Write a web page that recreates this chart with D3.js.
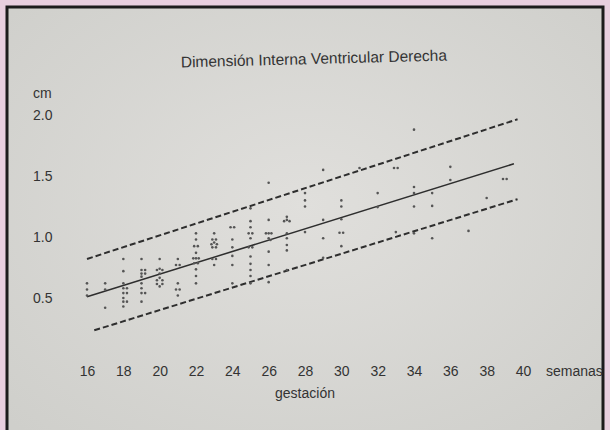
<!DOCTYPE html>
<html>
<head>
<meta charset="utf-8">
<script src="https://cdn.jsdelivr.net/npm/d3@7"></script>
<style>
  body { margin: 0; background: #e8cfdf; }
  text { font-family: "Liberation Sans", Arial, sans-serif; fill: #333; }
</style>
</head>
<body>
<svg></svg>
<script>
// semanas de gestacion / cm
let xTicks = [16, 18, 20, 22, 24, 26, 28, 30, 32, 34, 36, 38, 40];
let yTicks = [0.5, 1.0, 1.5, 2.0];

let dotWeeks = [
  16, 16, 16,
  17, 17, 17,
  18, 18, 18, 18, 18, 18, 18, 18, 18.2, 18.2, 18.2,
  19, 19, 19, 19, 19, 19, 19, 19, 19.2, 19.2, 19.2,
  20, 19.85, 20, 20.15, 20, 20, 19.85, 20.15, 19.85, 20.15, 20,
  21, 20.9, 21.1, 21, 20.9, 21.1, 21,
  22, 22, 21.9, 22.1, 22, 21.85, 22, 22.15, 21.9, 22.1, 22, 22, 22,
  23, 22.9, 23.1, 23, 22.85, 23.15, 22.9, 23.1, 22.9, 23.1, 23,
  23.9, 24.1, 24, 24, 24, 24, 24,
  25, 25, 25, 24.9, 25.1, 25, 24.9, 25.1, 25, 25, 25, 25, 25,
  26, 26, 25.85, 26, 26.15, 26, 26.1, 26, 26, 26,
  27, 26.85, 27, 27.15, 27, 27, 27, 27, 27,
  28, 28, 28, 28,
  29, 29, 29, 29,
  30, 30, 30, 29.9, 30.1, 30,
  31,
  32, 32,
  32.9, 33.1, 33,
  34, 34, 34, 34, 34,
  35, 35, 35,
  36, 36,
  37,
  38,
  38.9, 39.1
];
let dotCm = [
  0.62, 0.57, 0.52,
  0.62, 0.57, 0.42,
  0.82, 0.72, 0.62, 0.58, 0.54, 0.50, 0.47, 0.43, 0.58, 0.54, 0.47,
  0.82, 0.73, 0.70, 0.675, 0.62, 0.58, 0.54, 0.47, 0.73, 0.70, 0.54,
  0.82, 0.73, 0.74, 0.73, 0.70, 0.665, 0.645, 0.645, 0.615, 0.615, 0.595,
  0.82, 0.77, 0.77, 0.62, 0.57, 0.57, 0.52,
  1.03, 0.98, 0.925, 0.925, 0.87, 0.825, 0.825, 0.825, 0.785, 0.785, 0.735, 0.68, 0.62,
  1.03, 0.98, 0.98, 0.955, 0.94, 0.94, 0.915, 0.915, 0.82, 0.82, 0.77,
  1.08, 1.08, 0.98, 0.915, 0.845, 0.77, 0.62,
  1.235, 1.13, 1.08, 1.03, 1.03, 0.99, 0.915, 0.915, 0.84, 0.78, 0.73, 0.68, 0.62,
  1.445, 1.14, 1.03, 1.03, 1.03, 0.99, 0.975, 0.88, 0.77, 0.63,
  1.165, 1.13, 1.14, 1.13, 1.03, 0.99, 0.935, 0.89, 0.73,
  1.36, 1.30, 1.25, 1.04,
  1.55, 1.14, 0.99, 0.83,
  1.30, 1.25, 1.145, 1.035, 1.035, 0.925,
  1.565,
  1.36, 1.245,
  1.565, 1.565, 1.04,
  1.88, 1.41, 1.36, 1.25, 1.03,
  1.36, 1.255, 0.99,
  1.575, 1.467,
  1.05,
  1.32,
  1.475, 1.475
];

// mean and limits (start / end points)
let meanLine = [[16, 0.51], [39.5, 1.60]];
let upperLine = [[16, 0.82], [39.7, 1.965]];
let lowerLine = [[16.4, 0.235], [39.7, 1.31]];

let width = 610;
let height = 430;

let svg = d3.select("svg")
  .attr("width", width)
  .attr("height", height);

let xScale = d3.scaleLinear().domain([16, 40]).range([87, 523]);
let yScale = d3.scaleLinear().domain([0.5, 2.0]).range([298, 115]);

let drawPage = () => {
  let defs = svg.append("defs");
  let grad = defs.append("radialGradient")
    .attr("id", "paper")
    .attr("cx", "50%").attr("cy", "45%").attr("r", "70%");
  grad.append("stop").attr("offset", "0%").attr("stop-color", "#e0dfdc");
  grad.append("stop").attr("offset", "100%").attr("stop-color", "#cfcfcb");

  svg.append("rect")
    .attr("width", width).attr("height", height)
    .attr("fill", "#e8cfdf");

  svg.append("rect")
    .attr("x", 7).attr("y", 7)
    .attr("width", 596).attr("height", 440)
    .attr("fill", "url(#paper)")
    .attr("stroke", "#1c1c1c")
    .attr("stroke-width", 3);
}

let drawTitles = () => {
  svg.append("text")
    .text("Dimensión Interna Ventricular Derecha")
    .attr("transform", "translate(314, 64) rotate(-1.5)")
    .attr("text-anchor", "middle")
    .style("font-size", "15.5px");

  svg.append("text")
    .text("cm")
    .attr("x", 33).attr("y", 98)
    .style("font-size", "14px");

  svg.append("text")
    .text("semanas")
    .attr("x", 546).attr("y", 376)
    .style("font-size", "14px");

  svg.append("text")
    .text("gestación")
    .attr("x", 305).attr("y", 398)
    .attr("text-anchor", "middle")
    .style("font-size", "14px");
}

let drawAxes = () => {
  let xAxis = d3.axisBottom(xScale)
    .tickValues(xTicks)
    .tickSize(0)
    .tickPadding(3)
    .tickFormat(d3.format("d"));

  let gx = svg.append("g")
    .attr("transform", "translate(0, 363)")
    .call(xAxis);
  gx.select(".domain").remove();
  gx.selectAll("text").style("font-size", "14px").attr("fill", "#333");

  let yAxis = d3.axisLeft(yScale)
    .tickValues(yTicks)
    .tickSize(0)
    .tickFormat(d3.format(".1f"));

  let gy = svg.append("g")
    .attr("transform", "translate(33, 0)")
    .call(yAxis);
  gy.select(".domain").remove();
  gy.selectAll("text")
    .attr("x", 0)
    .attr("text-anchor", "start")
    .style("font-size", "14px")
    .attr("fill", "#333");
}

let drawLines = () => {
  let line = d3.line()
    .x((d) => xScale(d[0]))
    .y((d) => yScale(d[1]));

  svg.append("path")
    .datum(meanLine)
    .attr("d", line)
    .attr("fill", "none")
    .attr("stroke", "#2e2e2e")
    .attr("stroke-width", 1.5);

  svg.selectAll(".limit")
    .data([upperLine, lowerLine])
    .enter()
    .append("path")
    .attr("class", "limit")
    .attr("d", line)
    .attr("fill", "none")
    .attr("stroke", "#2e2e2e")
    .attr("stroke-width", 2)
    .attr("stroke-dasharray", "6,3");
}

let drawDots = () => {
  svg.selectAll(".dot")
    .data(dotWeeks)
    .enter()
    .append("circle")
    .attr("class", "dot")
    .attr("cx", (d) => xScale(d))
    .attr("cy", (d, i) => yScale(dotCm[i]))
    .attr("r", 1.3)
    .attr("fill", "#555");
}

drawPage();
drawTitles();
drawAxes();
drawLines();
drawDots();
</script>
</body>
</html>
